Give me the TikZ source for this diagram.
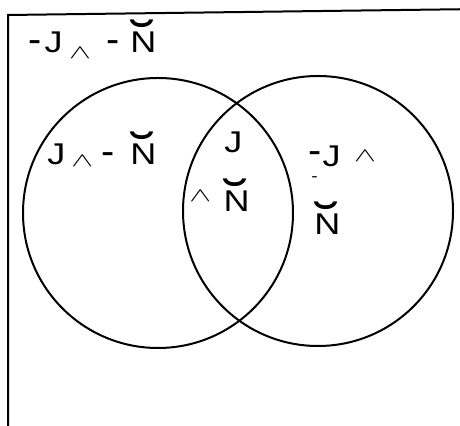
\documentclass[tikz,border=0pt]{standalone}
\usepackage{fontspec}
\setmainfont{Liberation Sans}[FakeStretch=1.2]
\usetikzlibrary{positioning}

% small flat wedge, raised by #1
\newcommand{\conj}[1][-3pt]{\raisebox{#1}{\scalebox{1.5}[0.9]{$\scriptstyle\wedge$}}}
% negation dash
\newcommand{\nt}{\scalebox{1.1}[1.3]{-}}
% N with a wide breve
\newcommand{\Nb}{\setbox0\hbox{N}\rlap{\hbox to\wd0{\hss\raisebox{-0.15em}{\scalebox{2}[1.7]{\char"02D8}}\hss}}N}

\begin{document}
\begin{tikzpicture}[
  x=0.5pt, y=-0.5pt,
  setcirc/.style={circle, draw, line width=1pt, minimum size=135pt, inner sep=0pt},
  lbl/.style={font=\fontsize{15}{17}\selectfont, inner sep=0pt, anchor=base west}
]
  \useasboundingbox (0,0) rectangle (460,426);
  \fill[white] (0,0) rectangle (460,426);

  % frame of the universe
  \draw[line width=1pt] (8,460) -- (8,15) -- (480,9);

  \node[setcirc] (setJ) at (158,213) {};
  \node[setcirc] (setN) at (318,211) {};

  \node[lbl] (nJnN) at (28,53)   {\nt\kern1.5pt J\kern3.3pt\conj\kern7.6pt\nt\kern5.4pt\Nb};
  \node[lbl] (JnN)  at (47,165)  {J\kern3pt\conj[-1pt]\kern4.1pt\nt\kern7.9pt\Nb};
  \node[lbl] (JN1)  at (224,153) {J};
  \node[lbl] (JN2)  at (189,212) {\conj[5pt]\kern6.2pt\Nb};
  \node[lbl] (nJN1) at (308,167) {\raisebox{1.5pt}{\nt}\kern0.5pt J\kern6.8pt\conj[2.5pt]};
  \node[lbl, font=\fontsize{8}{9}\selectfont] (nJN2) at (311,182) {-};
  \node[lbl] (nJN3) at (314,235) {\Nb};
\end{tikzpicture}
\end{document}
